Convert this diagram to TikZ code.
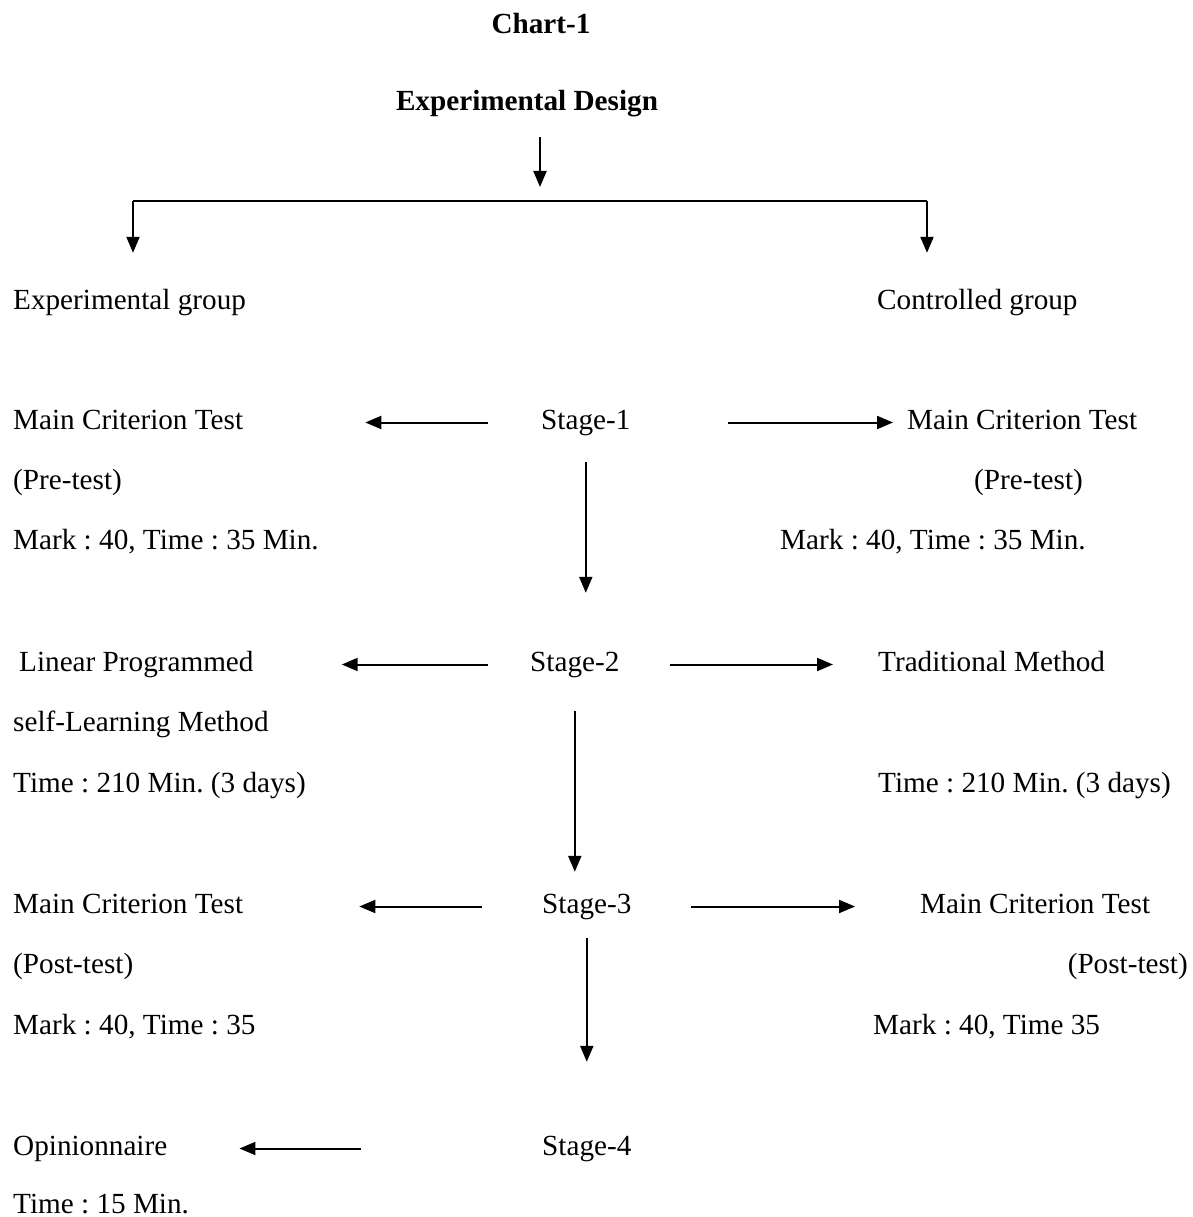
\documentclass[tikz,border=0pt]{standalone}
\usepackage{fontspec}
\setmainfont{Liberation Serif}
\usetikzlibrary{arrows.meta}
\frenchspacing

\begin{document}
\begin{tikzpicture}[x=1pt,y=-1pt,
  txt/.style={inner sep=0pt,text height=20pt,text depth=7pt,font=\fontsize{29.2}{35}\selectfont},
  lft/.style={txt,anchor=base west},
  arr/.style={line width=2pt,-{Triangle[length=16pt,width=13pt]}}]
\useasboundingbox (0,0) rectangle (1192,1217);
% heading
\node[txt,anchor=base] (chart) at (541,34) {\textbf{Chart-1}};
\node[txt,anchor=base] (ed) at (527,111) {\textbf{Experimental Design}};
\coordinate (split) at (540,201);
\coordinate (brL) at (133,201);
\coordinate (brR) at (927,201);
\node[lft] (grpL) at (13,309) {Experimental group};
\node[lft] (grpR) at (877,309) {Controlled group};
% stage 1
\node[lft] (s1) at (541,429) {Stage-1};
\node[lft] (preL) at (13,429) {Main Criterion Test};
\node[lft] (preLa) at (13,489) {(Pre-test)};
\node[lft] (preLb) at (13,549) {Mark : 40, Time : 35 Min.};
\node[lft] (preR) at (907,429) {Main Criterion Test};
\node[lft] (preRa) at (974,489) {(Pre-test)};
\node[lft] (preRb) at (780,549) {Mark : 40, Time : 35 Min.};
% stage 2
\node[lft] (s2) at (530,671) {Stage-2};
\node[lft] (linL) at (19,671) {Linear Programmed};
\node[lft] (linLa) at (13,731) {self-Learning Method};
\node[lft] (linLb) at (13,792) {Time : 210 Min. (3 days)};
\node[lft] (trad) at (878,671) {Traditional Method};
\node[lft] (tradb) at (878,792) {Time : 210 Min. (3 days)};
% stage 3
\node[lft] (s3) at (542,913) {Stage-3};
\node[lft] (postL) at (13,913) {Main Criterion Test};
\node[lft] (postLa) at (13,973) {(Post-test)};
\node[lft] (postLb) at (13,1034) {Mark : 40, Time : 35};
\node[lft] (postR) at (920,913) {Main Criterion Test};
\node[txt,anchor=base east] (postRa) at (1188,973) {(Post-test)};
\node[lft] (postRb) at (873,1034) {Mark : 40, Time 35};
% stage 4
\node[lft] (s4) at (542,1155) {Stage-4};
\node[lft] (opin) at (13,1155) {Opinionnaire};
\node[lft,text depth=0pt] (opina) at (13,1213) {Time : 15 Min.};
% arrows
\draw[arr,shorten <=19,shorten >=14] (ed.south -| split) -- (split);
\draw[line width=2pt] (brL) -- (brR);
\draw[arr,shorten >=36] (brL) -- (brL |- grpL.north);
\draw[arr,shorten >=36] (brR) -- (brR |- grpR.north);
\draw[arr,shorten <=53,shorten >=122] (s1.west) -- (preL.east);
\draw[arr,shorten <=97,shorten >=14] (s1.east) -- (preR.west);
\draw[arr,shorten <=26,shorten >=58] (s1.south) -- (s1.south |- s2.north);
\draw[arr,shorten <=42,shorten >=88] (s2.west) -- (linL.east);
\draw[arr,shorten <=50,shorten >=45] (s2.east) -- (trad.west);
\draw[arr,shorten <=33,shorten >=21] (s2.south) -- (s2.south |- s3.north);
\draw[arr,shorten <=60,shorten >=116] (s3.west) -- (postL.east);
\draw[arr,shorten <=59,shorten >=65] (s3.east) -- (postR.west);
\draw[arr,shorten <=18,shorten >=73] (s3.south) -- (s3.south |- s4.north);
\draw[arr,shorten <=181,shorten >=72] (s4.west) -- (opin.east);
\end{tikzpicture}
\end{document}
